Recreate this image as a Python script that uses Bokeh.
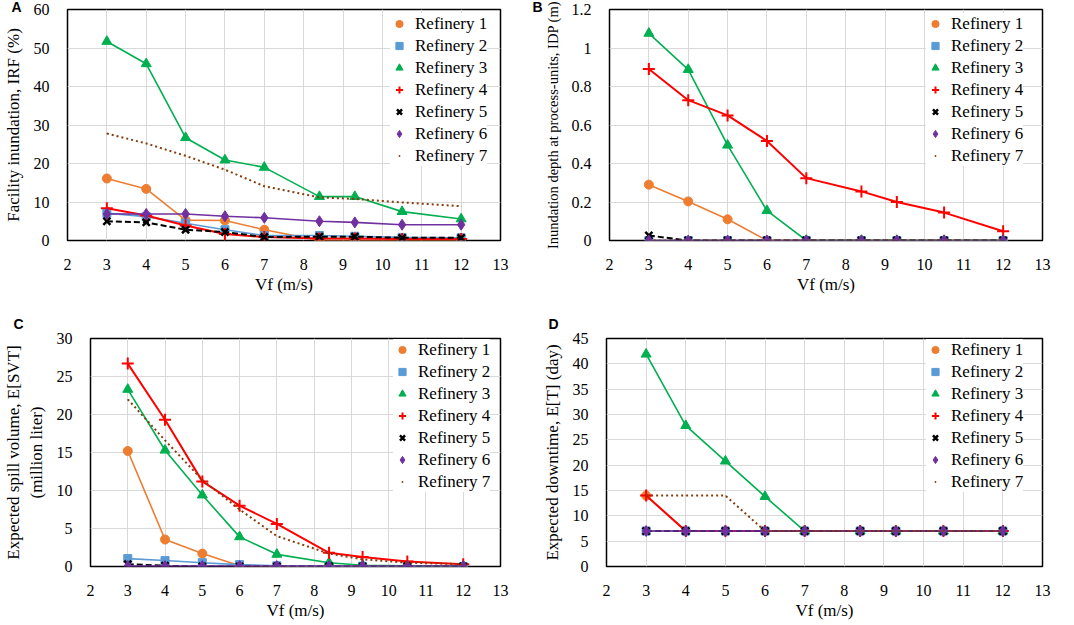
from bokeh.plotting import figure
from bokeh.layouts import column, row
from bokeh.models import (Legend, LegendItem, FixedTicker, Title,
                          CustomJSTickFormatter, Range1d)
from bokeh.embed import file_html
from bokeh.resources import INLINE

# ---------------- data ----------------
VF = [3, 4, 5, 6, 7, 8.4, 9.3, 10.5, 12]
X_TICKS = [2, 3, 4, 5, 6, 7, 8, 9, 10, 11, 12, 13]
NAMES = ["Refinery 1", "Refinery 2", "Refinery 3", "Refinery 4",
         "Refinery 5", "Refinery 6", "Refinery 7"]

# Panel A: facility inundation IR_F (%)
A_R1 = [16.1, 13.4, 5.3, 5.2, 2.8, 0.0, 0.0, 0.0, 0.0]
A_R2 = [7.1, 6.2, 4.5, 2.8, 1.3, 1.3, 1.1, 0.8, 0.7]
A_R3 = [51.7, 45.9, 26.7, 20.9, 19.0, 11.4, 11.4, 7.5, 5.6]
A_R4 = [8.4, 6.5, 3.9, 1.7, 0.9, 0.5, 0.5, 0.4, 0.4]
A_R5 = [5.0, 4.7, 2.8, 2.2, 0.9, 1.0, 1.0, 0.7, 0.7]
A_R6 = [6.9, 6.9, 6.9, 6.3, 5.9, 5.0, 4.7, 4.1, 4.1]
A_R7 = [27.8, 25.2, 22.0, 18.4, 14.1, 11.2, 10.8, 9.9, 8.9]
A_Y_TICKS = [0, 10, 20, 30, 40, 50, 60]

# Panel B: inundation depth at process units ID_P (m)
B_R1 = [0.29, 0.203, 0.11, 0.0, 0.0, 0.0, 0.0, 0.0, 0.0]
B_R2 = [0.0, 0.0, 0.0, 0.0, 0.0, 0.0, 0.0, 0.0, 0.0]
B_R3 = [1.076, 0.888, 0.495, 0.155, 0.0, 0.0, 0.0, 0.0, 0.0]
B_R4 = [0.891, 0.729, 0.65, 0.517, 0.324, 0.255, 0.2, 0.145, 0.048]
B_R5 = [0.026, 0.0, 0.0, 0.0, 0.0, 0.0, 0.0, 0.0, 0.0]
B_R6 = [0.0, 0.0, 0.0, 0.0, 0.0, 0.0, 0.0, 0.0, 0.0]
B_R7 = [0.0, 0.0, 0.0, 0.0, 0.0, 0.0, 0.0, 0.0, 0.0]
B_Y_TICKS = [0, 0.2, 0.4, 0.6, 0.8, 1, 1.2]

# Panel C: expected spill volume E[SV_T] (million liter)
C_R1 = [15.2, 3.55, 1.7, 0.1, 0.0, 0.0, 0.0, 0.0, 0.0]
C_R2 = [1.04, 0.78, 0.5, 0.25, 0.1, 0.05, 0.03, 0.0, 0.0]
C_R3 = [23.3, 15.3, 9.4, 3.9, 1.6, 0.5, 0.17, 0.1, 0.05]
C_R4 = [26.7, 19.3, 11.2, 8.0, 5.6, 1.8, 1.26, 0.65, 0.3]
C_R5 = [0.3, 0.1, 0.0, 0.0, 0.0, 0.0, 0.0, 0.0, 0.0]
C_R6 = [0.05, 0.05, 0.05, 0.05, 0.05, 0.05, 0.05, 0.05, 0.05]
C_R7 = [22.0, 16.6, 11.4, 7.5, 4.0, 1.7, 0.95, 0.5, 0.3]
C_Y_TICKS = [0, 5, 10, 15, 20, 25, 30]

# Panel D: expected downtime E[T] (day)
D_R1 = [14, 7, 7, 7, 7, 7, 7, 7, 7]
D_R2 = [7, 7, 7, 7, 7, 7, 7, 7, 7]
D_R3 = [41.9, 27.8, 20.8, 13.8, 7, 7, 7, 7, 7]
D_R4 = [14, 7, 7, 7, 7, 7, 7, 7, 7]
D_R5 = [7, 7, 7, 7, 7, 7, 7, 7, 7]
D_R6 = [7, 7, 7, 7, 7, 7, 7, 7, 7]
D_R7 = [14, 14, 14, 7, 7, 7, 7, 7, 7]
D_Y_TICKS = [0, 5, 10, 15, 20, 25, 30, 35, 40, 45]

# ---------------- styles ----------------
STYLES = [
    dict(color="#ED7D31", marker="circle", size=9, mlw=1, dash="solid", lw=1.6),
    dict(color="#5B9BD5", marker="square", size=8, mlw=1, dash="solid", lw=1.6),
    dict(color="#00B050", marker="triangle", size=10, mlw=1, dash="solid", lw=1.6),
    dict(color="#FF0000", marker="cross", size=12, mlw=2, dash="solid", lw=2),
    dict(color="#000000", marker="x", size=10, mlw=2.5, dash="6 3", lw=2),
    dict(color="#7030A0", marker="diamond", size=11, mlw=1, dash="solid", lw=1.6),
    dict(color="#843C0C", marker="dot", size=3, mlw=1, dash="2 3", lw=2),
]

SERIF = "'Liberation Serif', 'Times New Roman', 'DejaVu Serif', serif"


def make_panel(letter, series, y_ticks, ylabel, width, height, borders,
               letter_offset, letter_standoff, ylabel_size="17px"):
    bl, br, bt, bb = borders
    ymax = y_ticks[-1]
    p = figure(width=width, height=height, x_range=Range1d(X_TICKS[0], X_TICKS[-1]),
               y_range=Range1d(y_ticks[0], ymax), output_backend="svg",
               toolbar_location=None, min_border_left=bl, min_border_right=br,
               min_border_top=bt, min_border_bottom=bb)
    p.outline_line_color = "black"
    p.outline_line_width = 1.5
    p.xaxis.ticker = FixedTicker(ticks=X_TICKS)
    p.yaxis.ticker = FixedTicker(ticks=y_ticks)
    p.yaxis.formatter = CustomJSTickFormatter(code="return String(tick)")
    for ax in (p.xaxis, p.yaxis):
        ax.axis_line_color = None
        ax.major_tick_line_color = None
        ax.minor_tick_line_color = None
        ax.major_label_text_font = SERIF
        ax.major_label_text_font_size = "16px"
        ax.major_label_text_color = "black"
        ax.axis_label_text_font = SERIF
        ax.axis_label_text_font_size = "17px"
        ax.axis_label_text_font_style = "normal"
        ax.axis_label_text_color = "black"
    p.yaxis.axis_label_text_font_size = ylabel_size
    p.xaxis.major_label_standoff = 12
    p.yaxis.major_label_standoff = 12
    p.xaxis.axis_label_standoff = 2
    p.yaxis.axis_label_standoff = 8
    p.xaxis.axis_label = "Vf (m/s)"
    p.yaxis.axis_label = ylabel
    p.xgrid.grid_line_color = "#D9D9D9"
    p.ygrid.grid_line_color = "#D9D9D9"
    p.xgrid.grid_line_width = 1
    p.ygrid.grid_line_width = 1

    items = []
    for name, ys, st in zip(NAMES, series, STYLES):
        p.line(VF, ys, line_color=st["color"], line_width=st["lw"],
               line_dash=st["dash"])
        r = p.scatter(VF, ys, marker=st["marker"], size=st["size"],
                      fill_color=st["color"], line_color=st["color"],
                      line_width=st["mlw"])
        items.append(LegendItem(label=name, renderers=[r]))

    frame_w = width - bl - br
    frame_h = height - bt - bb
    leg_h = 7 * 21 + 6 * 1 + 2 * 4
    legend = Legend(items=items, location=(frame_w - 116, frame_h + 4 - leg_h))
    legend.label_text_font = SERIF
    legend.label_text_font_size = "17px"
    legend.label_text_color = "black"
    legend.glyph_width = 18
    legend.glyph_height = 21
    legend.label_height = 21
    legend.label_standoff = 7
    legend.spacing = 1
    legend.padding = 4
    legend.margin = 0
    legend.border_line_color = None
    legend.background_fill_color = "white"
    legend.background_fill_alpha = 1
    p.add_layout(legend)

    title = Title(text=letter, align="left", offset=letter_offset,
                  standoff=letter_standoff, text_font="Liberation Sans",
                  text_font_style="bold", text_font_size="14px",
                  text_color="black")
    p.add_layout(title, "above")
    return p


pA = make_panel("A", [A_R1, A_R2, A_R3, A_R4, A_R5, A_R6, A_R7], A_Y_TICKS,
                "Facility inundation, IRF (%)", 530, 300, (61, 30, 9, 60), -56, -10)
pB = make_panel("B", [B_R1, B_R2, B_R3, B_R4, B_R5, B_R6, B_R7], B_Y_TICKS,
                "Inundation depth at process-units, IDP (m)", 540, 300, (79, 28, 9, 60),
                -77, -10, ylabel_size="14.5px")
pC = make_panel("C", [C_R1, C_R2, C_R3, C_R4, C_R5, C_R6, C_R7], C_Y_TICKS,
                "Expected spill volume, E[SVT]\n(million liter)", 530, 322, (81, 30, 38, 53),
                -77, 13)
pD = make_panel("D", [D_R1, D_R2, D_R3, D_R4, D_R5, D_R6, D_R7], D_Y_TICKS,
                "Expected downtime, E[T] (day)", 540, 322, (76, 28, 38, 53), -58, 13)

layout = column(row(pA, pB), row(pC, pD))
open("out.html", "w").write(file_html(layout, INLINE))
